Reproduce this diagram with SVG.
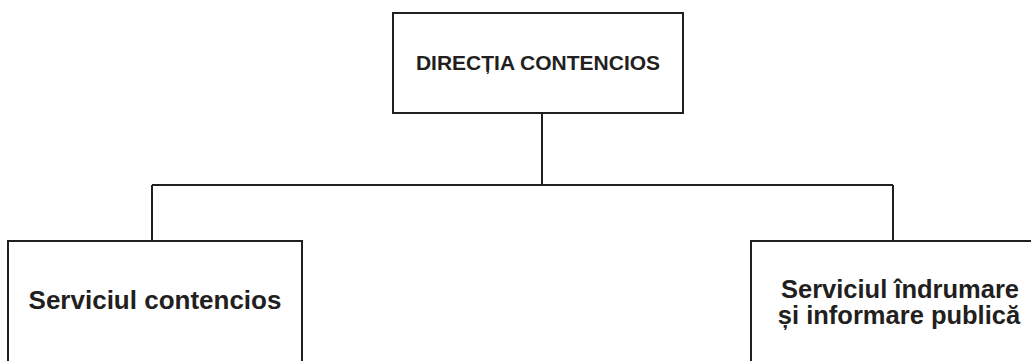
<svg xmlns="http://www.w3.org/2000/svg" width="1031" height="361" viewBox="0 0 1031 361">
<style>
.box{fill:#fff;stroke:#231f20;stroke-width:2}
.ln{fill:none;stroke:#231f20;stroke-width:2}
.t{font-family:"Liberation Sans",Arial,sans-serif;font-weight:bold;fill:#231f20;text-anchor:middle}
.top{font-size:21px}
.sub{font-size:26px}
.sub2{font-size:25.5px}
</style>
<rect width="1031" height="361" fill="#fff"/>
<g id="connectors">
<path class="ln" d="M542,113 V185 M152,185 H893 M152,185 V241 M893,185 V241"/>
</g>
<g id="directia">
<rect class="box" x="393" y="13" width="290" height="100"/>
<text class="t top" x="538" y="70">DIRECȚIA CONTENCIOS</text>
</g>
<g id="contencios">
<rect class="box" x="8" y="241" width="294" height="130"/>
<text class="t sub" x="155" y="309">Serviciul contencios</text>
</g>
<g id="indrumare">
<rect class="box" x="751" y="241" width="300" height="130"/>
<text class="t sub2" x="900" y="298">Serviciul îndrumare<tspan x="899" y="324">și informare publică</tspan></text>
</g>
</svg>
